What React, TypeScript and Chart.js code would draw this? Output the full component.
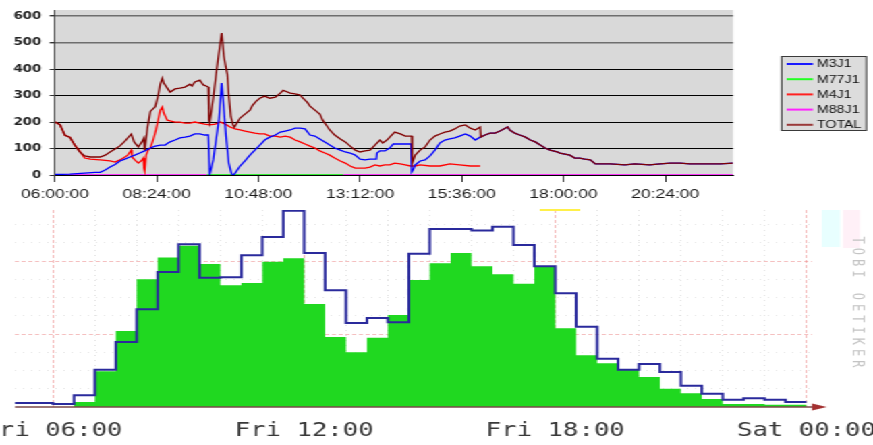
import React, { useEffect, useRef } from "react";
import { Chart, registerables } from "chart.js";

Chart.register(...registerables);

// The reference picture is horizontally stretched; we draw in a 647px wide space and stretch it.
const W = 647;
const STRETCH = 873 / W;

// ---------- Top chart (minutes after 06:00, value) ----------
const topTickLabels = ["06:00:00", "08:24:00", "10:48:00", "13:12:00", "15:36:00", "18:00:00", "20:24:00"];
const topTickStep = 144;
const topYTicks = [0, 100, 200, 300, 400, 500, 600];

const m3j1: [number, number][] = [
  [0, 2], [21, 3], [42, 7], [57, 10], [64, 10], [71, 19], [78, 30], [85, 40], [92, 53], [99, 60],
  [106, 68], [113, 75], [120, 83], [127, 91], [135, 102], [142, 109], [149, 113], [156, 113], [160, 121],
  [163, 125], [170, 132], [177, 140], [184, 143], [191, 147], [198, 155], [205, 155], [212, 151], [217, 151],
  [219, 0], [224, 57], [228, 132], [232, 207], [236, 347], [238, 283], [242, 151], [246, 45], [250, 4],
  [253, 0], [256, 11], [262, 34], [269, 53], [276, 75], [283, 94], [290, 113], [297, 132], [304, 143],
  [312, 151], [319, 162], [326, 166], [333, 170], [340, 177], [347, 177], [354, 174], [361, 151], [368, 147],
  [375, 136], [382, 125], [389, 113], [396, 102], [404, 94], [411, 87], [418, 83], [425, 75], [432, 60],
  [439, 57], [446, 60], [455, 60], [456, 83], [460, 91], [467, 91], [474, 102], [479, 117], [484, 117],
  [496, 117], [504, 117], [505, 11], [507, 19], [510, 38], [517, 53], [524, 57], [531, 72], [538, 94],
  [545, 121], [552, 132], [559, 136], [566, 140], [573, 147], [581, 155], [588, 147], [595, 132], [602, 143],
  [609, 151], [616, 158], [623, 158], [630, 166], [641, 181], [644, 170], [651, 158], [658, 151], [666, 143],
  [673, 132], [680, 125], [687, 113], [694, 102], [701, 94], [711, 87], [715, 83], [729, 75], [736, 64],
  [743, 64], [750, 60], [758, 57], [765, 42], [786, 42], [807, 38], [821, 42], [842, 38], [857, 42],
  [871, 45], [885, 45], [899, 42], [927, 42], [942, 42], [960, 45],
];

const m77j1: [number, number | null][] = [[215, 0], [408, 0]];

const m4j1: [number, number][] = [
  [0, 200], [7, 190], [14, 150], [21, 143], [28, 113], [35, 90], [42, 64], [50, 60], [64, 57], [78, 53],
  [85, 49], [92, 57], [99, 68], [103, 75], [108, 94], [109, 68], [113, 57], [118, 45], [122, 53], [125, 64],
  [126, 26], [127, 15], [129, 75], [132, 94], [135, 102], [139, 132], [143, 170], [146, 207], [149, 245],
  [152, 257], [154, 234], [159, 207], [163, 204], [170, 200], [177, 200], [184, 196], [191, 196], [198, 200],
  [205, 196], [212, 192], [219, 189], [227, 192], [234, 200], [241, 192], [248, 181], [255, 174], [262, 170],
  [269, 166], [276, 162], [283, 158], [290, 155], [297, 155], [304, 147], [312, 147], [319, 143], [326, 147],
  [333, 143], [340, 132], [347, 125], [354, 117], [361, 109], [368, 102], [375, 91], [382, 83], [389, 75],
  [396, 64], [404, 53], [411, 45], [418, 34], [425, 26], [432, 26], [439, 26], [446, 30], [453, 38],
  [460, 34], [467, 38], [474, 38], [481, 45], [489, 42], [496, 38], [503, 34], [510, 34], [517, 38],
  [531, 34], [545, 34], [559, 42], [573, 38], [588, 34], [602, 34],
];

const m88j1: [number, number | null][] = [[0, 0], [215, 0], [300, null], [408, 0], [960, 0]];

const total: [number, number][] = [
  [0, 200], [7, 190], [14, 150], [21, 143], [28, 113], [35, 87], [42, 72], [50, 68], [64, 68], [71, 75],
  [78, 87], [85, 98], [92, 110], [99, 128], [108, 155], [112, 125], [118, 106], [123, 125], [126, 140],
  [127, 94], [131, 180], [135, 240], [142, 258], [146, 300], [149, 343], [152, 366], [154, 347], [159, 328],
  [163, 313], [170, 325], [177, 328], [184, 332], [191, 343], [194, 336], [198, 351], [205, 358], [210, 340],
  [214, 336], [217, 332], [218, 207], [219, 196], [224, 290], [229, 400], [233, 480], [236, 536], [239, 450],
  [241, 420], [244, 380], [246, 300], [249, 220], [252, 190], [254, 181], [262, 215], [269, 230], [276, 245],
  [280, 264], [285, 279], [290, 290], [297, 298], [304, 290], [312, 294], [319, 309], [323, 320], [333, 309],
  [340, 306], [347, 302], [351, 290], [357, 275], [361, 260], [368, 245], [375, 230], [379, 207], [385, 185],
  [389, 170], [396, 151], [404, 136], [411, 125], [418, 109], [425, 94], [432, 87], [439, 91], [446, 94],
  [453, 113], [460, 132], [464, 121], [470, 132], [474, 143], [481, 162], [489, 155], [496, 147], [505, 147],
  [506, 45], [510, 75], [517, 94], [524, 106], [531, 132], [538, 147], [545, 155], [552, 162], [559, 166],
  [566, 174], [573, 185], [581, 189], [588, 177], [595, 170], [602, 181], [603, 143], [609, 151], [616, 158],
  [623, 158], [630, 166], [641, 181], [644, 170], [651, 158], [658, 151], [666, 143], [673, 132], [680, 125],
  [687, 113], [694, 102], [701, 94], [711, 87], [715, 83], [729, 75], [736, 64], [743, 64], [750, 60],
  [758, 57], [765, 42], [786, 42], [807, 38], [821, 42], [842, 38], [857, 42], [871, 45], [885, 45],
  [899, 42], [927, 42], [942, 42], [960, 45],
];

const seriesNames = ["M3J1", "M77J1", "M4J1", "M88J1", "TOTAL"];
const seriesColors = ["#0000ff", "#00ee00", "#ff0000", "#ff00ff", "#800000"];
const legendColors = ["#1a1aff", "#22ff22", "#ff2020", "#ff22ff", "#9a3a3a"];
const seriesData = [m3j1, m77j1, m4j1, m88j1, total];
const seriesOrder = [1, 3, 2, 3, 0];

// ---------- Bottom chart: 30-minute bins starting 05:00 (minutes after 06:00) ----------
const binStart = -60;
const binSize = 30;
const inValues = [0, 0, 0, 7, 49, 104, 175, 205, 221, 196, 167, 170, 199, 204, 141, 96, 75, 95, 126, 174, 197,
  211, 193, 182, 169, 192, 108, 71, 60, 51, 41, 25, 19, 11, 4, 4, 3, 3];
const outValues = [5.5, 5.5, 4, 16, 51, 89, 134, 185, 223, 177, 178, 208, 233, 269, 211, 160, 115, 122, 116, 210,
  244, 244, 242, 247, 222, 193, 156, 110, 66, 51, 59, 48, 29, 18, 10, 12, 10, 7];
const bottomTickLabels = ["Fri 06:00", "Fri 12:00", "Fri 18:00", "Sat 00:00"];
const bottomYGrid = [25, 50, 75, 100, 125, 150, 175, 200, 225, 250];

function stepPoints(values: number[]) {
  const pts = values.map((v, i) => ({ x: binStart + binSize * i, y: v }));
  pts.push({ x: binStart + binSize * values.length, y: values[values.length - 1] });
  return pts;
}

const topBg = {
  id: "topBg",
  beforeDraw(chart: any) {
    const { ctx, chartArea: a } = chart;
    ctx.save();
    ctx.fillStyle = "#d9d9d9";
    ctx.fillRect(a.left, a.top, a.right - a.left, a.bottom - a.top);
    ctx.restore();
  },
};

const topLegend = {
  id: "topLegend",
  afterDraw(chart: any) {
    const ctx = chart.ctx;
    ctx.save();
    const x0 = 578.8, y0 = 56, w = 63.8, h = 75;
    ctx.fillStyle = "#dcdcdc";
    ctx.fillRect(x0, y0, w, h);
    ctx.strokeStyle = "#3a3a3a";
    ctx.lineWidth = 1;
    ctx.strokeRect(x0 + 0.5, y0 + 0.5, w - 1, h - 1);
    ctx.font = '10.5px "Liberation Sans", Arial, sans-serif';
    ctx.textBaseline = "middle";
    seriesNames.forEach((n, i) => {
      const y = 64 + i * 15.2;
      ctx.strokeStyle = legendColors[i];
      ctx.lineWidth = 2;
      ctx.beginPath();
      ctx.moveTo(583, y);
      ctx.lineTo(602.5, y);
      ctx.stroke();
      ctx.fillStyle = "#111";
      ctx.fillText(n, 605.5, y + 0.5);
    });
    ctx.restore();
  },
};

const bottomDecor = {
  id: "bottomDecor",
  afterDraw(chart: any) {
    const { ctx, chartArea: a } = chart;
    ctx.save();
    // faint watermark squares and yellow mark near the top
    ctx.fillStyle = "#e8ffff";
    ctx.fillRect(609, 10, 13.6, 37);
    ctx.fillStyle = "#fff0f7";
    ctx.fillRect(624.8, 10, 12.6, 38);
    ctx.fillStyle = "#fff04a";
    ctx.fillRect(400, 9, 30, 2);
    // axis with arrow
    ctx.strokeStyle = "#7a4848";
    ctx.lineWidth = 1.6;
    ctx.beginPath();
    ctx.moveTo(a.left, a.bottom);
    ctx.lineTo(a.right + 2, a.bottom);
    ctx.stroke();
    ctx.fillStyle = "#a33030";
    ctx.beginPath();
    ctx.moveTo(a.right, a.bottom - 3.5);
    ctx.lineTo(a.right + 11, a.bottom);
    ctx.lineTo(a.right, a.bottom + 3.5);
    ctx.closePath();
    ctx.fill();
    // vertical watermark text
    const txt = "TOBI OETIKER";
    ctx.fillStyle = "#c4c4c4";
    ctx.font = '12px "DejaVu Sans Mono", monospace';
    ctx.textAlign = "center";
    ctx.textBaseline = "middle";
    for (let i = 0; i < txt.length; i++) {
      ctx.save();
      ctx.translate(635, 40 + i * 11.25);
      ctx.rotate(Math.PI / 2);
      ctx.fillText(txt[i], 0, 0);
      ctx.restore();
    }
    ctx.restore();
  },
};

function topConfig(): any {
  return {
    type: "line",
    data: {
      datasets: seriesNames.map((n, i) => ({
        label: n,
        data: seriesData[i].map(([x, y]) => ({ x, y })),
        borderColor: seriesColors[i],
        backgroundColor: seriesColors[i],
        borderWidth: 1.3,
        pointRadius: 0,
        tension: 0,
        spanGaps: false,
        order: seriesOrder[i],
      })),
    },
    options: {
      animation: false,
      responsive: true,
      maintainAspectRatio: false,
      layout: { padding: { left: 0, right: W - 543.25, top: 10, bottom: 0 } },
      plugins: { legend: { display: false }, tooltip: { enabled: false } },
      scales: {
        x: {
          type: "linear",
          min: 0,
          max: 960,
          afterBuildTicks: (s: any) => {
            s.ticks = topTickLabels.map((_, i) => ({ value: i * topTickStep }));
          },
          afterFit: (s: any) => {
            s.height = 25;
            s.paddingLeft = 0;
            s.paddingRight = 0;
          },
          ticks: {
            autoSkip: false,
            maxRotation: 0,
            padding: 5,
            color: "#1a1a1a",
            font: { family: '"Liberation Sans", Arial, sans-serif', size: 13 },
            callback: (_v: any, i: number) => topTickLabels[i],
          },
          grid: { drawOnChartArea: false, drawTicks: true, tickLength: 7, tickColor: "#333", tickWidth: 1 },
          border: { color: "#000", width: 1 },
        },
        y: {
          min: 0,
          max: 623,
          afterBuildTicks: (s: any) => {
            s.ticks = topYTicks.map((v) => ({ value: v }));
          },
          afterFit: (s: any) => {
            s.width = 40.76;
            s.paddingTop = 0;
            s.paddingBottom = 0;
          },
          ticks: {
            padding: 6,
            color: "#222",
            font: { family: '"DejaVu Sans", sans-serif', size: 10, weight: "bold" },
          },
          grid: {
            color: (c: any) => (c.tick && c.tick.value >= 500 ? "#6e6e6e" : "#000"),
            lineWidth: (c: any) => (c.tick && c.tick.value >= 500 ? 1.4 : 1),
            tickLength: 4,
            tickColor: "#333",
          },
          border: { color: "#404040", width: 1 },
        },
      },
    },
    plugins: [topBg, topLegend],
  };
}

function bottomConfig(): any {
  return {
    type: "line",
    data: {
      datasets: [
        {
          label: "out",
          data: stepPoints(outValues),
          stepped: true,
          borderColor: "#2a2a9c",
          borderWidth: 2,
          pointRadius: 0,
          fill: false,
          order: 0,
        },
        {
          label: "in",
          data: stepPoints(inValues),
          stepped: true,
          borderColor: "rgba(0,0,0,0)",
          borderWidth: 0,
          backgroundColor: "#20d820",
          pointRadius: 0,
          fill: "origin",
          order: 1,
        },
      ],
    },
    options: {
      animation: false,
      responsive: true,
      maintainAspectRatio: false,
      layout: { padding: { left: 11.12, right: W - 601.8, top: 10, bottom: 0 } },
      plugins: { legend: { display: false }, tooltip: { enabled: false } },
      scales: {
        x: {
          type: "linear",
          min: -54.5,
          max: 1088,
          afterBuildTicks: (s: any) => {
            const t: any[] = [];
            for (let m = 0; m <= 1080; m += 60) t.push({ value: m });
            s.ticks = t;
          },
          afterFit: (s: any) => {
            s.height = 38;
            s.paddingLeft = 0;
            s.paddingRight = 0;
          },
          ticks: {
            autoSkip: false,
            maxRotation: 0,
            padding: 13,
            color: "#383838",
            font: { family: '"DejaVu Sans Mono", monospace', size: 19 },
            callback: (v: any) => (v % 360 === 0 ? bottomTickLabels[v / 360] : ""),
          },
          grid: {
            drawTicks: false,
            color: (c: any) => (c.tick && c.tick.value % 360 === 0 ? "rgba(235,120,120,0.55)" : "#e2e2e2"),
            lineWidth: 1,
          },
          border: {
            display: false,
            dash: (c: any) => (c.tick && c.tick.value % 360 === 0 ? [3, 2] : [1, 4]),
          },
        },
        y: {
          min: 0,
          max: 270,
          afterBuildTicks: (s: any) => {
            s.ticks = bottomYGrid.map((v) => ({ value: v }));
          },
          afterFit: (s: any) => {
            s.width = 0;
            s.paddingTop = 0;
            s.paddingBottom = 0;
          },
          ticks: { display: false },
          grid: {
            drawTicks: false,
            color: (c: any) => (c.tick && c.tick.value % 100 === 0 ? "rgba(235,130,130,0.5)" : "#e6e6e6"),
            lineWidth: 1,
          },
          border: {
            display: false,
            dash: (c: any) => (c.tick && c.tick.value % 100 === 0 ? [3, 2] : [1, 5]),
          },
        },
      },
    },
    plugins: [bottomDecor],
  };
}

export default function App() {
  const topRef = useRef<HTMLCanvasElement>(null);
  const botRef = useRef<HTMLCanvasElement>(null);
  useEffect(() => {
    const top = new Chart(topRef.current as HTMLCanvasElement, topConfig());
    const bot = new Chart(botRef.current as HTMLCanvasElement, bottomConfig());
    return () => {
      top.destroy();
      bot.destroy();
    };
  }, []);
  return (
    <div
      style={{
        position: "absolute",
        left: 0,
        top: 0,
        width: W,
        height: 445,
        transform: `scaleX(${STRETCH})`,
        transformOrigin: "0 0",
        background: "#fff",
        overflow: "hidden",
      }}
    >
      <div style={{ position: "absolute", left: 0, top: 0, width: W, height: 200 }}>
        <canvas ref={topRef} />
      </div>
      <div style={{ position: "absolute", left: 0, top: 200, width: W, height: 245 }}>
        <canvas ref={botRef} />
      </div>
    </div>
  );
}
